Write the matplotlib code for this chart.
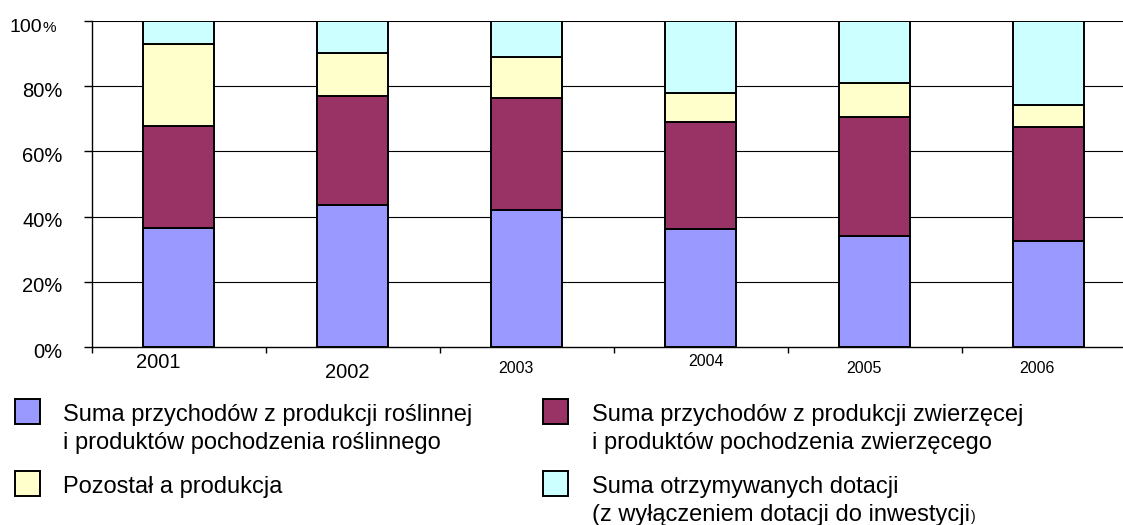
import matplotlib
matplotlib.use("Agg")
import matplotlib.pyplot as plt
import matplotlib.transforms as mtransforms
from matplotlib.patches import Rectangle

# values, in % of the total
years = ["2001", "2002", "2003", "2004", "2005", "2006"]
plant = [36.6, 43.6, 42.0, 36.3, 34.0, 32.6]
animal = [31.1, 33.5, 34.5, 32.8, 36.7, 35.0]
other = [25.1, 13.2, 12.6, 8.9, 10.4, 6.6]
subsidies = [7.2, 9.7, 10.9, 22.0, 18.9, 25.8]

series_labels = [
    ["Suma przychodów z produkcji roślinnej", "i produktów pochodzenia roślinnego"],
    ["Suma przychodów z produkcji zwierzęcej", "i produktów pochodzenia zwierzęcego"],
    ["Pozostał a produkcja"],
    ["Suma otrzymywanych dotacji", "(z wyłączeniem dotacji do inwestycji"],
]
colors = ["#9999FF", "#993366", "#FFFFCC", "#CCFFFF"]

plt.rcParams['font.family'] = ['Liberation Sans', 'DejaVu Sans']

W, H = 1123, 525
fig = plt.figure(figsize=(W / 100, H / 100), dpi=100)

def fx(px):
    return px / W

def fy(py):
    return 1 - py / H

# axes runs past the right edge of the picture, like the original
ax = fig.add_axes([fx(91.7), fy(347), 1044 / W, 326 / H])
ax.set_xlim(-0.5, 5.5)
ax.set_ylim(0, 100)

x = list(range(len(years)))
bottom = [0.0] * len(years)
for vals, c in zip([plant, animal, other, subsidies], colors):
    ax.bar(x, vals, bottom=bottom, width=0.41, color=c, edgecolor="black",
           linewidth=1.4, zorder=3)
    bottom = [b + v for b, v in zip(bottom, vals)]

# grid
for v in [20, 40, 60, 80, 100]:
    ax.axhline(v, color="black", linewidth=0.8, zorder=1)

for s in ["top", "right"]:
    ax.spines[s].set_visible(False)
ax.spines["left"].set_linewidth(1.0)
ax.spines["bottom"].set_linewidth(1.0)

ax.set_xticks([i - 0.5 for i in range(len(years) + 1)])
ax.set_xticklabels([])
ax.tick_params(axis="x", length=4, width=1.0, direction="out")

ax.set_yticks([0, 20, 40, 60, 80, 100])
ax.set_yticklabels(["0%", "20%", "40%", "60%", "80%", ""], fontsize=14.5)
ax.tick_params(axis="y", length=6, width=1.0, direction="out", pad=15)
shift = mtransforms.ScaledTranslation(0, -0.03, fig.dpi_scale_trans)
for lab in ax.get_yticklabels():
    lab.set_transform(lab.get_transform() + shift)

# "100%" with a small percent sign
fig.text(fx(41.7), fy(31.7), "100", ha="right", va="baseline", fontsize=14)
fig.text(fx(42.3), fy(31.7), "%", ha="left", va="baseline", fontsize=11)

# year labels, uneven like the original
lab_dx = [-0.12, -0.03, -0.06, 0.03, -0.06, -0.07]
lab_y = [-0.049, -0.079, -0.067, -0.043, -0.067, -0.067]
lab_size = [14.5, 14.5, 11.5, 11.5, 11.5, 11.5]
for i, y in enumerate(years):
    ax.text(i + lab_dx[i], lab_y[i], y, transform=ax.get_xaxis_transform(),
            ha="center", va="center", fontsize=lab_size[i])

# legend drawn by hand
box_pos = [(15, 399), (543, 399), (15, 471), (543, 471)]
text_x = [63, 592, 63, 592]
last = None
for (bx, by), tx, c, lines in zip(box_pos, text_x, colors, series_labels):
    fig.patches.append(Rectangle((fx(bx), fy(by + 25)), 25 / W, 25 / H,
                                 transform=fig.transFigure, facecolor=c,
                                 edgecolor="black", linewidth=1.4))
    for k, line in enumerate(lines):
        last = fig.text(fx(tx), fy(by + 22.5 + 27 * k), line, ha="left",
                        va="baseline", fontsize=17)

# the closing bracket of the last label is small in the original
fig.canvas.draw()
bb = last.get_window_extent()
fig.text(bb.x1 / W + 0.0005, fy(471 + 22.5 + 27), ")", ha="left",
         va="baseline", fontsize=10)

fig.savefig("out.png", dpi=100)
